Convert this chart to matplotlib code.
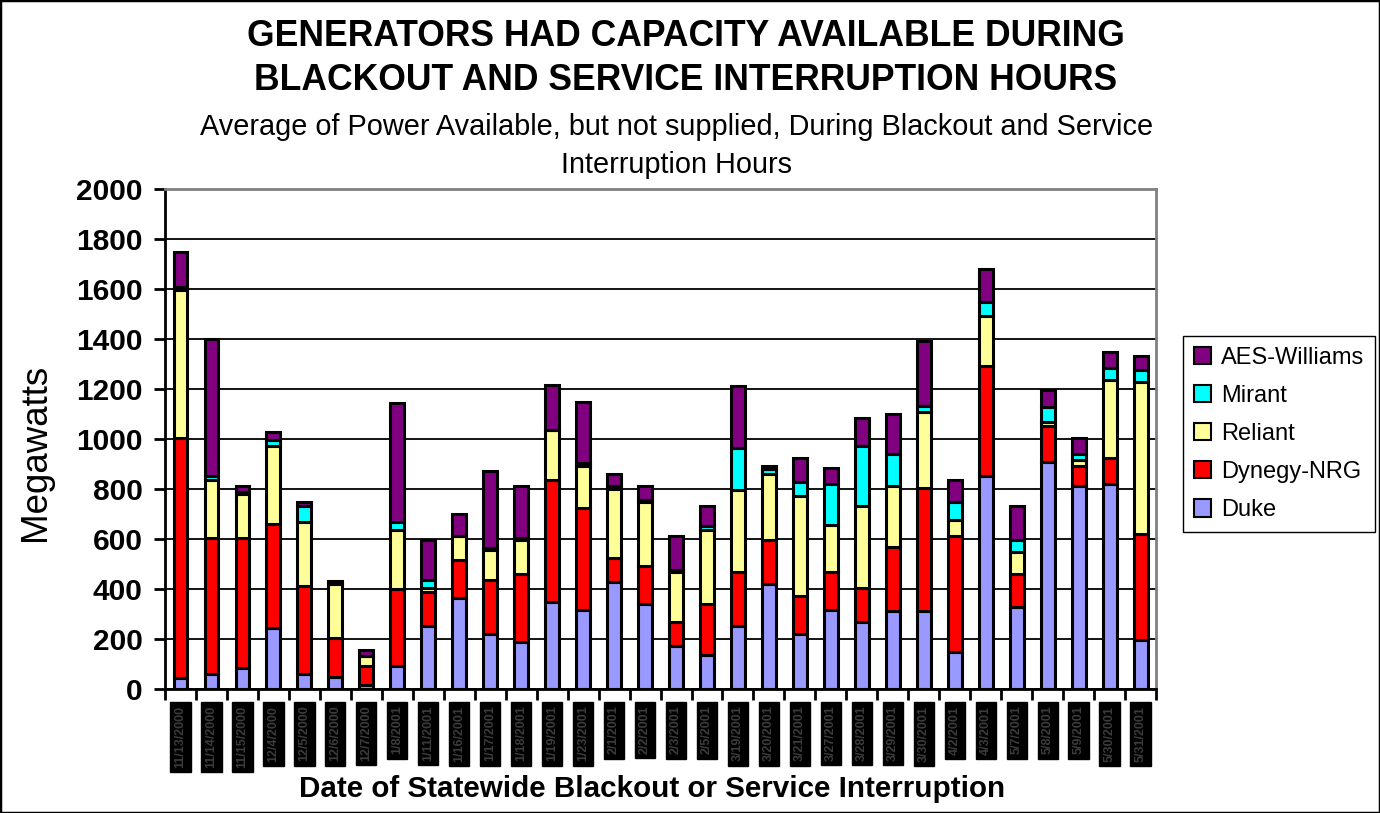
import matplotlib.pyplot as plt
import numpy as np
from matplotlib.patches import Patch, Rectangle

plt.rcParams['font.family'] = ['Liberation Sans', 'DejaVu Sans']

dates = ['11/13/2000', '11/14/2000', '11/15/2000', '12/4/2000', '12/5/2000', '12/6/2000',
         '12/7/2000', '1/8/2001', '1/11/2001', '1/16/2001', '1/17/2001', '1/18/2001',
         '1/19/2001', '1/23/2001', '2/1/2001', '2/2/2001', '2/3/2001', '2/5/2001',
         '3/19/2001', '3/20/2001', '3/21/2001', '3/27/2001', '3/28/2001', '3/29/2001',
         '3/30/2001', '4/2/2001', '4/3/2001', '5/7/2001', '5/8/2001', '5/9/2001',
         '5/30/2001', '5/31/2001']

duke = [45, 60, 84, 244, 60, 50, 18, 92, 252, 364, 219, 190, 348, 317, 427, 341,
        172, 138, 252, 420, 219, 316, 268, 314, 314, 148, 852, 330, 910, 812, 822, 198]
dynegy = [960, 543, 519, 418, 352, 153, 73, 310, 137, 153, 217, 270, 490, 408, 97, 152,
          96, 203, 217, 176, 153, 153, 136, 253, 490, 464, 441, 130, 142, 80, 104, 421]
reliant = [593, 235, 176, 312, 257, 217, 40, 234, 16, 95, 122, 138, 199, 167, 278, 254,
           201, 295, 329, 264, 400, 186, 329, 245, 305, 64, 199, 88, 18, 25, 312, 610]
mirant = [9, 14, 10, 21, 62, 6, 0, 33, 31, 0, 8, 7, 0, 11, 10, 11,
          8, 17, 166, 21, 57, 164, 238, 130, 24, 71, 57, 50, 57, 23, 48, 49]
aes = [142, 548, 24, 35, 19, 8, 25, 474, 161, 89, 308, 209, 178, 247, 50, 54,
       135, 80, 249, 11, 96, 65, 114, 160, 258, 91, 130, 135, 71, 65, 64, 56]

series = [
    ('Duke', duke, '#9999FF'),
    ('Dynegy-NRG', dynegy, '#FF0000'),
    ('Reliant', reliant, '#FFFF99'),
    ('Mirant', mirant, '#00FFFF'),
    ('AES-Williams', aes, '#800080'),
]

fig = plt.figure(figsize=(13.8, 8.13), dpi=100)
ax = fig.add_axes([0.1196, 0.1525, 0.7181, 0.615])

x = np.arange(len(dates))
bottom = np.zeros(len(dates))
for name, vals, color in series:
    ax.bar(x, vals, 0.45, bottom=bottom, color=color, edgecolor='black',
           linewidth=2.2, zorder=3)
    bottom += np.array(vals)

ax.set_xlim(-0.5, len(dates) - 0.5)
ax.set_ylim(0, 2000)
ax.set_yticks(range(0, 2001, 200))
ax.yaxis.grid(True, color='black', lw=1.3, zorder=1)
ax.set_axisbelow(True)

for side in ['left', 'bottom']:
    ax.spines[side].set_color('black')
    ax.spines[side].set_linewidth(2)
for side in ['top', 'right']:
    ax.spines[side].set_color('#808080')
    ax.spines[side].set_linewidth(2)

ax.tick_params(axis='y', direction='out', length=8, width=2, labelsize=21.5, pad=8)
for lbl in ax.get_yticklabels():
    lbl.set_fontweight('bold')

ax.set_xticks(x)
ax.set_xticklabels(dates, rotation=90, fontsize=9, fontweight='bold',
                   color='#3c3c3c', va='top', ha='center')
for lbl in ax.get_xticklabels():
    lbl.set_bbox(dict(facecolor='black', edgecolor='black', pad=3))
ax.tick_params(axis='x', which='major', length=0, pad=12)
ax.set_xticks(np.arange(-0.5, len(dates)), minor=True)
ax.tick_params(axis='x', which='minor', direction='out', length=8, width=2)

fig.text(0.497, 1 - 36 / 813, 'GENERATORS HAD CAPACITY AVAILABLE DURING',
         ha='center', va='center', fontsize=25.6, fontweight='bold')
fig.text(0.497, 1 - 80 / 813, 'BLACKOUT AND SERVICE INTERRUPTION HOURS',
         ha='center', va='center', fontsize=25.6, fontweight='bold')
fig.text(0.49, 1 - 127 / 813,
         'Average of Power Available, but not supplied, During Blackout and Service',
         ha='center', va='center', fontsize=20.8)
fig.text(0.49, 1 - 165 / 813, 'Interruption Hours',
         ha='center', va='center', fontsize=20.8)

fig.text(0.026, 1 - 452 / 813, 'Megawatts', rotation=90, ha='center', va='center',
         fontsize=26.5)
fig.text(0.4725, 1 - 789 / 813, 'Date of Statewide Blackout or Service Interruption',
         ha='center', va='center', fontsize=21.3, fontweight='bold')

handles = [Patch(facecolor=c, edgecolor='black', linewidth=1.5, label=n)
           for n, v, c in series[::-1]]
fig.legend(handles=handles, loc='center left',
           bbox_to_anchor=(1183 / 1380, 1 - 434 / 813), fontsize=17,
           frameon=True, fancybox=False, edgecolor='black', framealpha=1,
           handlelength=0.75, handleheight=0.75, handletextpad=0.4,
           labelspacing=0.68, borderpad=0.45, borderaxespad=0)

fig.patches.append(Rectangle((0, 0), 1, 1, transform=fig.transFigure, fill=False,
                             edgecolor='black', linewidth=2.5))

fig.savefig('out.png', dpi=100)
